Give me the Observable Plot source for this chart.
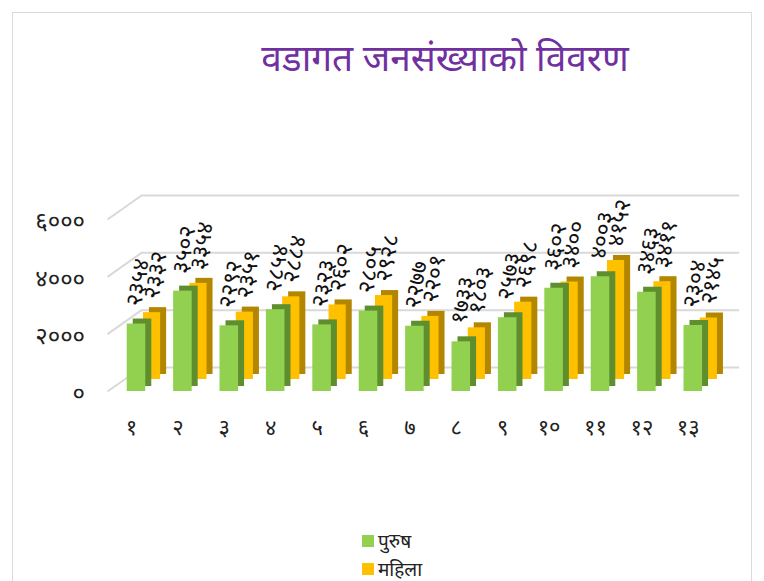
<!DOCTYPE html>
<html>
<head>
<meta charset="utf-8">
<script src="https://cdn.jsdelivr.net/npm/d3@7"></script>
<script src="https://cdn.jsdelivr.net/npm/@observablehq/plot@0.6"></script>
<style>
  html, body { margin: 0; padding: 0; background: #fff; }
  body { width: 764px; height: 581px; position: relative; overflow: hidden; font-family: "Noto Sans", "DejaVu Sans", sans-serif; }
  #frame { position: absolute; left: 12px; top: 12px; width: 740px; height: 620px; border: 1px solid #d9d9d9; box-sizing: border-box; }
  #title { position: absolute; left: 0; width: 890px; top: 31px; text-align: center; color: #7030a0; font-size: 37px; white-space: nowrap; }
  #chart { position: absolute; left: 0; top: 0; }
  #chart text.sp { letter-spacing: 2px; }
  .leg { position: absolute; left: 362px; font-size: 19px; line-height: 22px; color: #222; display: flex; align-items: center; }
  .leg span.sw { display: inline-block; width: 12px; height: 12px; margin-right: 4px; }
</style>
</head>
<body>
<div id="frame"></div>
<div id="chart"></div>
<div id="title">वडागत जनसंख्याको विवरण</div>
<div class="leg" style="top:530px"><span class="sw" style="background:#92d050"></span>पुरुष</div>
<div class="leg" style="top:558px"><span class="sw" style="background:#ffc000"></span>महिला</div>
<script>
// ---- data ----
const wards = [1, 2, 3, 4, 5, 6, 7, 8, 9, 10, 11, 12, 13];
const wardLabels = ["१", "२", "३", "४", "५", "६", "७", "८", "९", "१०", "११", "१२", "१३"];
const male = [2354, 3502, 2292, 2854, 2323, 2805, 2277, 1733, 2573, 3602, 4003, 3463, 2304];
const female = [2332, 3354, 2351, 2884, 2602, 2928, 2201, 1803, 2698, 3400, 4152, 3411, 2145];
const yTicks = [0, 2000, 4000, 6000];
const yTickLabels = ["०", "२०००", "४०००", "६०००"];
const seriesNames = ["पुरुष", "महिला"];

const devDigits = "०१२३४५६७८९";
const toDev = n => String(n).replace(/\d/g, c => devDigits[+c]);

const rows = wards.map((w, i) => ({ward: w, label: wardLabels[i], male: male[i], female: female[i]}));

// ---- layout ----
const W = 764, H = 581;
const yTop = 219, yBottom = 391;
const pxPerUnit = (yBottom - yTop) / 6000;
const depthPx = 24;              // back-wall offset of gridlines
const depthUnits = depthPx / pxPerUnit;
const gridX0 = 0.375, gridX1 = 1.108, gridX2 = 14;

const maleFront = "#92d050", maleSide = "#5e8e2e";
const femFront = "#ffc000", femSide = "#b38600";
const fontFam = "'Noto Sans', 'DejaVu Sans', sans-serif";

const chart = Plot.plot({
  width: W,
  height: H,
  marginLeft: 89.6,
  marginRight: 24.8,
  marginTop: yTop,
  marginBottom: H - yBottom,
  x: {type: "linear", domain: [0, 14], axis: null},
  y: {domain: [0, 6000], axis: null},
  style: {fontFamily: fontFam, background: "transparent"},
  marks: [
    // slanted + back-wall gridlines
    Plot.link(yTicks, {x1: gridX0, x2: gridX1, y1: d => d, y2: d => d + depthUnits, stroke: "#d9d9d9", strokeWidth: 2}),
    Plot.ruleY(yTicks, {x1: gridX1, x2: gridX2, y: d => d, dy: -depthPx, stroke: "#d9d9d9", strokeWidth: 2}),
    // female bars (behind)
    Plot.rect(rows, {x1: d => d.ward + 0.15, x2: d => d.ward + 0.52, y1: 0, y2: "female", dx: 6, dy: -17, fill: femSide}),
    Plot.rect(rows, {x1: d => d.ward + 0.15, x2: d => d.ward + 0.52, y1: 0, y2: "female", dy: -12, fill: femFront}),
    // male bars (front)
    Plot.rect(rows, {x1: d => d.ward - 0.2, x2: d => d.ward + 0.2, y1: 0, y2: "male", dx: 6, dy: -5, fill: maleSide}),
    Plot.rect(rows, {x1: d => d.ward - 0.2, x2: d => d.ward + 0.2, y1: 0, y2: "male", fill: maleFront}),
    // data labels
    Plot.text(rows, {x: d => d.ward - 0.06, y: "male", text: d => toDev(d.male), dy: -18, rotate: -80, textAnchor: "start", lineAnchor: "middle", fontSize: 23, fill: "#111"}),
    Plot.text(rows, {x: d => d.ward + 0.32, y: "female", text: d => toDev(d.female), dy: -26, rotate: -80, textAnchor: "start", lineAnchor: "middle", fontSize: 23, fill: "#111"}),
    // axes labels
    Plot.text(rows, {x: "ward", y: 0, text: "label", dx: -5, dy: 36, fontSize: 22, fill: "#222"}),
    Plot.text(yTicks, {x: 0, y: d => d, text: (d, i) => yTickLabels[i], textAnchor: "end", dx: -5, dy: 2, fontSize: 24, fill: "#222"})
  ]
});
document.getElementById("chart").appendChild(chart);
</script>
</body>
</html>
